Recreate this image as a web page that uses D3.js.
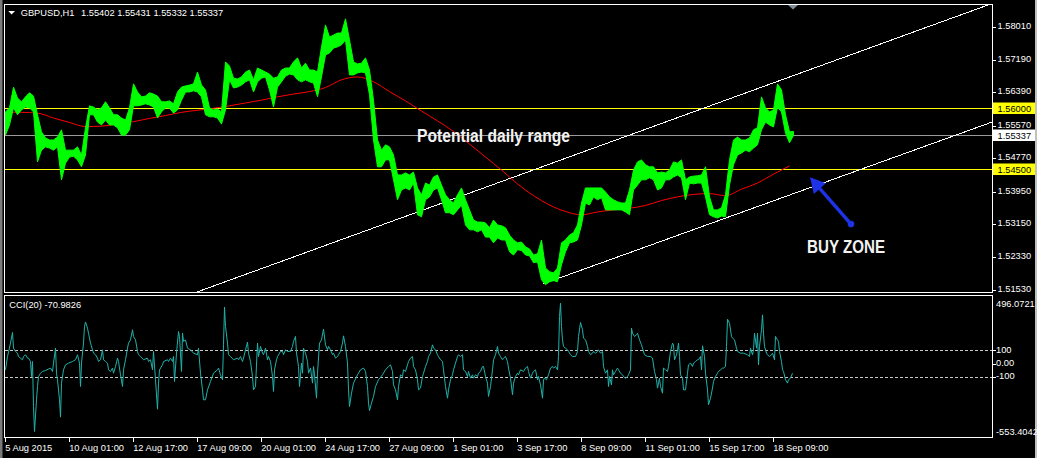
<!DOCTYPE html>
<html><head><meta charset="utf-8">
<script src="https://cdn.jsdelivr.net/npm/d3@7"></script>
<style>
html,body{margin:0;padding:0;background:#000;overflow:hidden;}
svg{display:block;}
text{font-family:"Liberation Sans",Arial,sans-serif;}
</style></head><body>
<svg id="c" width="1037" height="458"></svg>
<script>
// ---------------- data ----------------
const symbolTitle = "GBPUSD,H1";
const ohlcText = "1.55402 1.55431 1.55332 1.55337";
const cciTitle = "CCI(20) -70.9826";
const timeLabels = ["5 Aug 2015","10 Aug 01:00","12 Aug 17:00","17 Aug 09:00","20 Aug 01:00","24 Aug 17:00","27 Aug 09:00","1 Sep 01:00","3 Sep 17:00","8 Sep 09:00","11 Sep 01:00","15 Sep 17:00","18 Sep 09:00"];
const timeLabelStep = 64;          // bars between time labels
const visibleBars = 987;           // bars that fit the plot width
const priceTicks = [1.5801,1.5719,1.5639,1.5557,1.5477,1.5395,1.5315,1.5233,1.5153];
const priceRange = [1.5148, 1.5854];
const levelLines = [1.5600, 1.5450];
const lastPrice = 1.55337;
const barStep = 4;                 // hourly bars per sample
const highs = [1.5591,1.5601,1.5652,1.5625,1.5616,1.5628,1.5638,1.5630,1.5584,1.5542,
1.5527,1.5522,1.5522,1.5529,1.5547,1.5497,1.5497,1.5497,1.5505,1.5485,
1.5552,1.5606,1.5603,1.5596,1.5601,1.5616,1.5601,1.5584,1.5584,1.5576,
1.5571,1.5601,1.5660,1.5640,1.5628,1.5630,1.5638,1.5635,1.5630,1.5616,
1.5616,1.5618,1.5611,1.5640,1.5652,1.5655,1.5657,1.5660,1.5689,1.5657,
1.5645,1.5601,1.5596,1.5598,1.5591,1.5714,1.5704,1.5674,1.5672,1.5677,
1.5689,1.5694,1.5670,1.5699,1.5694,1.5689,1.5684,1.5674,1.5677,1.5694,
1.5699,1.5699,1.5714,1.5724,1.5699,1.5711,1.5694,1.5694,1.5689,1.5751,
1.5805,1.5775,1.5780,1.5785,1.5785,1.5820,1.5768,1.5714,1.5709,1.5711,
1.5724,1.5694,1.5620,1.5522,1.5497,1.5510,1.5505,1.5485,1.5436,1.5436,
1.5441,1.5436,1.5443,1.5404,1.5387,1.5416,1.5411,1.5431,1.5436,1.5411,
1.5387,1.5375,1.5367,1.5387,1.5404,1.5375,1.5350,1.5325,1.5320,1.5320,
1.5318,1.5306,1.5325,1.5313,1.5311,1.5306,1.5288,1.5276,1.5269,1.5271,
1.5259,1.5254,1.5239,1.5242,1.5276,1.5207,1.5198,1.5195,1.5207,1.5269,
1.5276,1.5288,1.5294,1.5313,1.5367,1.5404,1.5404,1.5404,1.5404,1.5404,
1.5394,1.5382,1.5375,1.5370,1.5367,1.5367,1.5399,1.5448,1.5468,1.5473,
1.5461,1.5456,1.5456,1.5441,1.5443,1.5441,1.5448,1.5468,1.5465,1.5473,
1.5424,1.5431,1.5433,1.5434,1.5436,1.5456,1.5382,1.5350,1.5350,1.5355,
1.5387,1.5473,1.5522,1.5529,1.5522,1.5522,1.5527,1.5547,1.5552,1.5628,
1.5601,1.5591,1.5596,1.5660,1.5645,1.5584,1.5542,1.55431];
const lows = [1.5534,1.5559,1.5601,1.5584,1.5596,1.5603,1.5601,1.5591,1.5468,1.5497,
1.5505,1.5502,1.5497,1.5505,1.5424,1.5465,1.5480,1.5482,1.5473,1.5456,
1.5485,1.5584,1.5584,1.5566,1.5559,1.5571,1.5559,1.5559,1.5552,1.5534,
1.5534,1.5547,1.5606,1.5606,1.5608,1.5611,1.5608,1.5603,1.5576,1.5591,
1.5601,1.5601,1.5588,1.5596,1.5620,1.5640,1.5640,1.5643,1.5640,1.5628,
1.5584,1.5579,1.5579,1.5576,1.5561,1.5596,1.5670,1.5650,1.5652,1.5657,
1.5665,1.5670,1.5640,1.5665,1.5674,1.5677,1.5645,1.5603,1.5652,1.5665,
1.5679,1.5684,1.5682,1.5670,1.5665,1.5670,1.5665,1.5662,1.5628,1.5677,
1.5731,1.5736,1.5748,1.5751,1.5756,1.5768,1.5682,1.5682,1.5687,1.5689,
1.5687,1.5633,1.5522,1.5456,1.5456,1.5473,1.5473,1.5424,1.5375,1.5399,
1.5404,1.5399,1.5416,1.5338,1.5333,1.5375,1.5382,1.5399,1.5404,1.5375,
1.5343,1.5343,1.5338,1.5350,1.5362,1.5313,1.5301,1.5301,1.5296,1.5301,
1.5283,1.5283,1.5269,1.5281,1.5276,1.5276,1.5247,1.5239,1.5252,1.5250,
1.5239,1.5237,1.5220,1.5222,1.5178,1.5166,1.5173,1.5176,1.5173,1.5215,
1.5247,1.5269,1.5271,1.5276,1.5313,1.5367,1.5362,1.5382,1.5375,1.5380,
1.5350,1.5350,1.5350,1.5350,1.5350,1.5345,1.5338,1.5399,1.5411,1.5424,
1.5424,1.5429,1.5424,1.5399,1.5404,1.5424,1.5424,1.5431,1.5436,1.5429,
1.5375,1.5416,1.5414,1.5416,1.5416,1.5382,1.5338,1.5333,1.5330,1.5335,
1.5333,1.5411,1.5461,1.5485,1.5490,1.5497,1.5493,1.5502,1.5510,1.5547,
1.5566,1.5559,1.5554,1.5603,1.5591,1.5539,1.5515,1.55332];
const maStep = 16;                 // bars between moving-average readings
const maValues = [1.5590,1.5590,1.5588,1.5576,1.5565,1.5555,1.5556,1.5561,1.5567,1.5575,
1.5582,1.5590,1.5595,1.5600,1.5606,1.5613,1.5620,1.5628,1.5635,1.5641,
1.5651,1.5670,1.5677,1.5665,1.5641,1.5618,1.5593,1.5569,1.5543,1.5512,
1.5480,1.5448,1.5414,1.5385,1.5362,1.5346,1.5338,1.5345,1.5350,1.5354,
1.5361,1.5373,1.5382,1.5388,1.5390,1.5385,1.5401,1.5416,1.5438,1.5458];
const cciRange = [-553.4042, 496.0721];
const cciLevels = [100, -100];
const cciTickLabels = [[496.0721,"496.0721"],[100,"100"],[0,"0.00"],[-100,"-100"],[-553.4042,"-553.4042"]];
// [bar, CCI value]
const cciSeries = [[0,-46],[2,53],[5,153],[7,232],[8,115],[10,91],[12,78],[13,53],[15,41],[17,29],[18,53],[20,66],[22,41],[23,41],[25,16],[26,-96],[27,16],[28,-319],[29,-505],[31,-269],[32,-170],[33,-96],[35,-71],[37,-58],[40,-51],[45,-33],[47,-58],[48,4],[50,115],[51,-71],[52,-120],[54,-269],[55,-398],[56,-145],[58,-46],[60,-9],[63,4],[67,16],[70,29],[72,66],[74,4],[75,-170],[76,4],[78,153],[79,277],[80,309],[82,264],[83,227],[85,153],[87,103],[88,78],[90,66],[92,41],[93,16],[95,29],[97,103],[98,29],[100,16],[102,4],[103,-46],[105,-58],[107,-33],[108,-71],[110,-21],[112,41],[113,16],[115,-83],[117,-170],[118,-46],[120,29],[122,115],[123,153],[125,177],[127,252],[128,202],[130,177],[132,91],[133,66],[135,53],[138,29],[142,41],[143,16],[145,29],[147,-46],[148,91],[150,-120],[152,-339],[153,-145],[154,-46],[157,-9],[158,16],[162,29],[163,16],[165,41],[167,16],[168,53],[169,-133],[171,78],[173,239],[174,202],[176,-58],[177,227],[178,165],[180,177],[182,115],[185,103],[188,78],[192,66],[193,115],[195,-71],[197,-195],[198,-269],[200,-269],[202,-195],[205,-133],[208,-71],[212,-46],[213,-33],[215,-83],[217,-120],[218,140],[219,421],[220,277],[222,153],[223,66],[225,53],[228,29],[232,41],[233,29],[235,53],[237,16],[238,41],[240,103],[242,160],[243,78],[245,16],[247,-96],[248,-195],[250,-170],[252,153],[253,53],[255,128],[257,78],[258,66],[260,115],[262,29],[263,53],[265,16],[267,-96],[268,-207],[269,-46],[271,29],[272,53],[275,91],[277,91],[278,66],[280,103],[282,91],[285,91],[287,128],[288,165],[290,202],[291,78],[293,-21],[294,-170],[296,4],[297,-71],[298,115],[300,78],[302,16],[303,-71],[305,-33],[307,-145],[308,-21],[309,-83],[311,-257],[312,-71],[314,153],[316,177],[318,257],[320,140],[322,103],[323,128],[325,103],[327,66],[328,78],[330,41],[332,53],[333,66],[335,91],[337,153],[338,207],[340,128],[342,4],[343,-195],[344,-319],[346,-220],[348,-145],[352,-83],[355,-46],[358,-33],[360,-58],[362,-170],[363,-294],[364,-349],[366,-294],[368,-244],[370,-170],[373,-120],[377,-83],[380,-46],[383,-21],[385,-9],[387,-58],[388,-158],[390,-195],[392,-269],[393,-170],[395,-83],[397,-96],[398,-46],[400,-58],[402,-9],[403,16],[405,41],[407,53],[408,-21],[410,-46],[412,-120],[413,-195],[415,-182],[417,-96],[418,-71],[420,-21],[422,16],[423,53],[425,78],[427,140],[428,115],[430,103],[432,66],[433,53],[435,29],[437,16],[438,-46],[440,-170],[442,-257],[443,-195],[445,-120],[447,-83],[448,-46],[450,4],[452,53],[453,66],[455,53],[457,66],[458,-46],[460,-58],[462,-96],[463,-58],[465,-108],[467,-83],[468,-108],[470,-83],[472,-96],[473,-71],[475,-58],[477,-21],[478,-21],[480,-96],[482,-145],[483,-244],[485,-170],[487,-46],[488,29],[490,66],[492,128],[493,78],[495,53],[497,29],[498,41],[500,53],[502,16],[503,-33],[505,-108],[507,-232],[508,-145],[510,-96],[512,-71],[513,-83],[515,-46],[518,-58],[520,-33],[522,-21],[523,-58],[525,-108],[527,-71],[528,-58],[530,-46],[532,-120],[533,-96],[535,-158],[537,-257],[538,-120],[539,-108],[541,-120],[543,-83],[545,-33],[547,-21],[548,-33],[550,-21],[552,-46],[553,53],[554,351],[555,450],[556,277],[557,177],[558,128],[560,115],[562,103],[563,91],[565,66],[567,53],[570,53],[572,91],[573,202],[575,306],[577,252],[578,190],[580,177],[582,128],[583,91],[585,66],[587,78],[588,91],[590,78],[592,91],[593,103],[595,78],[597,91],[598,-21],[600,-71],[602,-46],[603,-170],[604,-96],[606,-158],[607,-46],[608,-83],[610,-58],[612,-33],[613,-46],[615,-71],[617,-83],[618,-96],[620,-108],[622,-96],[623,-83],[625,-46],[626,264],[627,227],[629,202],[631,215],[632,227],[634,177],[636,140],[637,115],[639,66],[642,53],[645,53],[647,41],[649,-58],[651,-120],[652,-182],[654,-108],[655,-170],[657,-220],[658,-33],[660,-46],[662,-58],[663,-21],[665,91],[667,153],[668,140],[669,29],[671,66],[672,103],[673,153],[674,53],[675,-83],[677,-108],[678,-195],[680,-195],[682,-71],[683,-9],[685,4],[687,-21],[688,4],[690,16],[692,29],[693,29],[695,53],[696,-46],[697,133],[699,53],[700,-71],[702,-195],[703,-306],[705,-257],[707,-182],[708,-133],[710,-96],[712,-71],[713,-58],[715,-46],[717,-33],[718,-33],[720,-21],[721,128],[722,331],[724,301],[726,202],[727,190],[729,177],[731,115],[732,91],[735,78],[738,78],[742,66],[744,53],[745,115],[747,66],[748,103],[749,227],[751,115],[752,227],[753,-9],[754,128],[756,252],[757,363],[758,227],[759,128],[761,78],[762,66],[764,53],[766,66],[767,78],[769,29],[770,202],[772,177],[773,165],[774,91],[776,16],[777,-46],[778,-58],[780,-120],[782,-145],[783,-120],[785,-108],[787,-71]];
// channel trend lines: [bar, price] anchors
const channelUpper = [[192, 1.5148], [983, 1.5854]];
const channelLower = [[538, 1.5168], [987, 1.5566]];
// annotations in [bar, price]
const arrowFrom = [846, 1.5315];
const arrowTo = [805, 1.5430];
const notes = [{text:"Potential daily range", bar:412, price:1.5518, width:153, size:18},
               {text:"BUY ZONE", bar:802, price:1.5245, width:78, size:19}];

// ---------------- layout ----------------
const W = 1037, H = 458;
const plotL = 5, plotR = 992, mainT = 5, mainB = 292, cciT = 297, cciB = 438;
const svg = d3.select('#c');
svg.append('rect').attr('width', W).attr('height', H).attr('fill', '#000');
// window edges
svg.append('rect').attr('x', 0).attr('y', 0).attr('width', 2.5).attr('height', H).attr('fill', '#7a7a7a');
svg.append('rect').attr('x', W - 2).attr('y', 0).attr('width', 2).attr('height', H).attr('fill', '#c0c0c0');

const x = d3.scaleLinear().domain([0, visibleBars]).range([plotL, plotR]);
const y = d3.scaleLinear().domain(priceRange).range([mainB, mainT]);
const yc = d3.scaleLinear().domain(cciRange).range([cciB, cciT]);

const defs = svg.append('defs');
defs.append('clipPath').attr('id','clipMain').append('rect')
  .attr('x', plotL).attr('y', mainT).attr('width', plotR - plotL).attr('height', mainB - mainT);
defs.append('clipPath').attr('id','clipCci').append('rect')
  .attr('x', plotL).attr('y', cciT).attr('width', plotR - plotL).attr('height', cciB - cciT);

const gMain = svg.append('g').attr('clip-path', 'url(#clipMain)');
const gCci = svg.append('g').attr('clip-path', 'url(#clipCci)');

// horizontal level lines
levelLines.forEach(v => {
  gMain.append('line').attr('x1', plotL).attr('x2', plotR)
    .attr('y1', Math.round(y(v)) + 0.5).attr('y2', Math.round(y(v)) + 0.5)
    .attr('stroke', '#ffff00').attr('stroke-width', 1);
});
gMain.append('line').attr('x1', plotL).attr('x2', plotR)
  .attr('y1', Math.round(y(lastPrice)) + 0.5).attr('y2', Math.round(y(lastPrice)) + 0.5)
  .attr('stroke', '#9a9a9a').attr('stroke-width', 1);

// channel lines
function channel(pts) {
  const [a, b] = pts;
  const slope = (b[1] - a[1]) / (b[0] - a[0]);
  const x0 = a[0], x1 = visibleBars;
  gMain.append('line')
    .attr('x1', x(x0)).attr('y1', y(a[1]))
    .attr('x2', x(x1)).attr('y2', y(a[1] + slope * (x1 - x0)))
    .attr('stroke', '#ffffff').attr('stroke-width', 1).attr('shape-rendering', 'crispEdges');
}
channel(channelUpper);
channel(channelLower);

// moving average
gMain.append('path')
  .datum(maValues.map((v, i) => [i * maStep, v]))
  .attr('fill', 'none').attr('stroke', '#ff0000').attr('stroke-width', 1)
  .attr('d', d3.line().x(d => x(d[0]) + 0.5).y(d => y(d[1])).curve(d3.curveMonotoneX));

// price bars (high-low band per group of hourly bars)
const bars = highs.map((h, i) => ({bar: i * barStep, hi: h, lo: lows[i]}));
gMain.append('path')
  .datum(bars)
  .attr('fill', '#00ff00').attr('stroke', '#00ff00').attr('stroke-width', 1)
  .attr('stroke-linejoin', 'miter')
  .attr('d', d3.area().x(d => x(d.bar) + 0.5).y0(d => y(d.lo)).y1(d => y(d.hi)));

// annotations
notes.forEach(n => {
  svg.append('text').attr('x', x(n.bar)).attr('y', y(n.price))
    .attr('fill', '#f2f2f2').attr('font-size', n.size + 'px').attr('font-weight', 'bold')
    .style('font-family', '"Liberation Sans Narrow","Liberation Sans",Arial,sans-serif')
    .attr('textLength', n.width).attr('lengthAdjust', 'spacingAndGlyphs')
    .text(n.text);
});
// arrow
(function () {
  const x1 = x(arrowFrom[0]), y1 = y(arrowFrom[1]);
  const x2 = x(arrowTo[0]), y2 = y(arrowTo[1]);
  const dx = x2 - x1, dy = y2 - y1, len = Math.hypot(dx, dy);
  const ux = dx / len, uy = dy / len, px = -uy, py = ux;
  const headL = 15, headW = 8;
  const bx = x2 - ux * headL, by = y2 - uy * headL;
  const col = '#1e32e6';
  svg.append('line').attr('x1', x1).attr('y1', y1).attr('x2', bx + ux * 2).attr('y2', by + uy * 2)
    .attr('stroke', col).attr('stroke-width', 3.5);
  svg.append('path').attr('fill', col)
    .attr('d', `M${x2},${y2}L${bx + px * headW},${by + py * headW}L${bx - px * headW},${by - py * headW}Z`);
  svg.append('circle').attr('cx', x1).attr('cy', y1).attr('r', 3.3).attr('fill', col);
})();

// CCI
cciLevels.forEach(v => {
  gCci.append('line').attr('x1', plotL).attr('x2', plotR)
    .attr('y1', Math.round(yc(v)) + 0.5).attr('y2', Math.round(yc(v)) + 0.5)
    .attr('stroke', '#c8c8c8').attr('stroke-width', 1).attr('stroke-dasharray', '3,2');
});
gCci.append('path').datum(cciSeries)
  .attr('fill', 'none').attr('stroke', '#20b2aa').attr('stroke-width', 1)
  .attr('d', d3.line().x(d => x(d[0]) + 0.5).y(d => yc(d[1])));

// frames
svg.append('rect').attr('x', 4.5).attr('y', 4.5).attr('width', plotR - 4).attr('height', mainB - 4)
  .attr('fill', 'none').attr('stroke', '#fff').attr('stroke-width', 1);
svg.append('rect').attr('x', 4.5).attr('y', 295.5).attr('width', plotR - 4).attr('height', cciB - 0.5 - 295.5)
  .attr('fill', 'none').attr('stroke', '#fff').attr('stroke-width', 1);

// shift marker above last bar
const lastX = x((highs.length - 1) * barStep);
svg.append('path').attr('fill', '#7f8c99')
  .attr('d', `M${lastX - 5},5L${lastX + 5},5L${lastX},9.5Z`);

// headers
const fs = 9.3;
svg.append('path').attr('fill', '#fff').attr('d', 'M8.3,11L15,11L11.65,14.4Z');
svg.append('text').attr('x', 20.7).attr('y', 16).attr('fill', '#fff').attr('font-size', fs + 'px').text(symbolTitle);
svg.append('text').attr('x', 81).attr('y', 16).attr('fill', '#fff').attr('font-size', fs + 'px').text(ohlcText);
svg.append('text').attr('x', 9.3).attr('y', 308).attr('fill', '#fff').attr('font-size', fs + 'px').text(cciTitle);

// price axis
priceTicks.forEach(v => {
  const yy = Math.round(y(v)) + 0.5;
  svg.append('line').attr('x1', plotR + 0.5).attr('x2', plotR + 4).attr('y1', yy).attr('y2', yy).attr('stroke', '#fff');
  svg.append('text').attr('x', 997.5).attr('y', yy + 1.8).attr('fill', '#fff').attr('font-size', fs + 'px')
    .text(v.toFixed(5));
});
function tagLabel(v, bg) {
  const yy = Math.round(y(v)) + 0.5;
  svg.append('rect').attr('x', 993).attr('y', yy - 6).attr('width', 42).attr('height', 11.5).attr('fill', bg);
  svg.append('text').attr('x', 997.5).attr('y', yy + 3.4).attr('fill', '#000').attr('font-size', fs + 'px')
    .text(v.toFixed(5));
}
levelLines.forEach(v => tagLabel(v, '#ffff00'));
tagLabel(lastPrice, '#ffffff');

// cci axis
cciTickLabels.forEach(([v, t]) => {
  let yy = yc(v);
  let ty = yy + 2.3;
  if (v === cciRange[1]) ty = cciT + 9.6;
  if (v === cciRange[0]) ty = cciB - 3;
  if (Math.abs(v) <= 100) {
    svg.append('line').attr('x1', plotR + 0.5).attr('x2', plotR + 4)
      .attr('y1', Math.round(yy) + 0.5).attr('y2', Math.round(yy) + 0.5).attr('stroke', '#fff');
  }
  svg.append('text').attr('x', 996).attr('y', ty).attr('fill', '#fff').attr('font-size', fs + 'px').text(t);
});

// time axis
timeLabels.forEach((t, k) => {
  const xx = Math.round(x(k * timeLabelStep)) + 0.5;
  svg.append('line').attr('x1', xx).attr('x2', xx).attr('y1', cciB).attr('y2', cciB + 4).attr('stroke', '#fff');
  svg.append('text').attr('x', xx - 0.3).attr('y', 450.5).attr('fill', '#fff').attr('font-size', fs + 'px').text(t);
});
</script>
</body></html>
